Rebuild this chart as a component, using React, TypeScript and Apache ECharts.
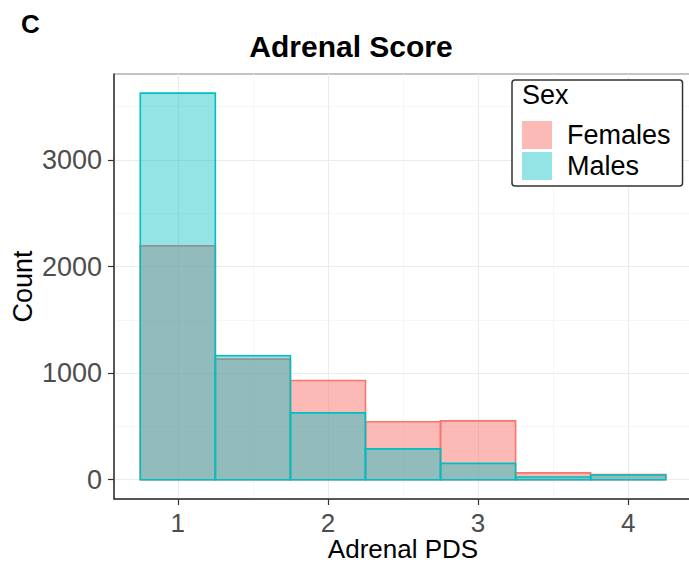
import React, { useEffect, useRef } from "react";
import * as echarts from "echarts";

// Histogram bins (centre of each 0.5-wide bin) and counts per sex
const binCenters = [1, 1.5, 2, 2.5, 3, 3.5, 4];
const femaleCounts = [2194, 1131, 931, 543, 552, 64, 48];
const maleCounts = [3627, 1163, 627, 289, 153, 25, 44];
const BIN_WIDTH = 0.5;

const xTicks = [1, 2, 3, 4];
const xMinorGrid = [1.5, 2.5, 3.5];
const yTicks = [0, 1000, 2000, 3000];
const yMinorGrid = [500, 1500, 2500, 3500];

const FONT = "'Liberation Sans', Arial, Helvetica, sans-serif";
const FEMALE_FILL = "rgba(248,118,109,0.5)";
const FEMALE_LINE = "#F8766D";
const MALE_FILL = "rgba(0,191,196,0.42)";
const MALE_LINE = "#00BFC4";

function histSeries(name: string, counts: number[], fill: string, stroke: string, z: number) {
  return {
    name,
    type: "custom",
    z,
    itemStyle: { color: fill, borderColor: stroke },
    encode: { x: 0, y: 1 },
    data: binCenters.map((c, i) => [c, counts[i]]),
    renderItem: (params: any, api: any) => {
      const c = api.value(0);
      const v = api.value(1);
      const p0 = api.coord([c - BIN_WIDTH / 2, v]);
      const p1 = api.coord([c + BIN_WIDTH / 2, 0]);
      return {
        type: "rect",
        shape: { x: p0[0], y: p0[1], width: p1[0] - p0[0], height: p1[1] - p0[1] },
        style: { fill, stroke, lineWidth: 1.6 },
      };
    },
  };
}

export default function App() {
  const ref = useRef<HTMLDivElement>(null);

  useEffect(() => {
    if (!ref.current) return;
    const chart = echarts.init(ref.current, undefined, { renderer: "svg" });

    const gridLines = [
      ...yTicks.map((v) => ({ yAxis: v, lineStyle: { color: "#EBEBEB", width: 1.1, type: "solid" } })),
      ...yMinorGrid.map((v) => ({ yAxis: v, lineStyle: { color: "#F4F4F4", width: 0.8, type: "solid" } })),
      ...xTicks.map((v) => ({ xAxis: v, lineStyle: { color: "#EBEBEB", width: 1.1, type: "solid" } })),
      ...xMinorGrid.map((v) => ({ xAxis: v, lineStyle: { color: "#F4F4F4", width: 0.8, type: "solid" } })),
    ];

    chart.setOption({
      animation: false,
      backgroundColor: "#ffffff",
      title: {
        text: "Adrenal Score",
        left: 346,
        top: 26,
        textAlign: "center",
        textStyle: { fontFamily: FONT, fontSize: 30, fontWeight: "bold", color: "#000" },
      },
      graphic: [
        {
          type: "text",
          left: 21,
          top: 11,
          style: { text: "C", font: `bold 26px ${FONT}`, fill: "#000" },
        },
        {
          type: "text",
          left: 522,
          top: 81,
          z: 100,
          style: { text: "Sex", font: `27px ${FONT}`, fill: "#000" },
        },
      ],
      legend: {
        orient: "vertical",
        left: 512,
        top: 80,
        padding: [41, 12, 6, 10],
        itemWidth: 30,
        itemHeight: 28,
        itemGap: 3,
        icon: "rect",
        backgroundColor: "#fff",
        borderColor: "#333",
        borderWidth: 1.5,
        borderRadius: 3,
        textStyle: { fontFamily: FONT, fontSize: 27, color: "#000", padding: [0, 0, 0, 10] },
        data: [
          { name: "Females", itemStyle: { color: FEMALE_FILL, borderWidth: 0 } },
          { name: "Males", itemStyle: { color: MALE_FILL, borderWidth: 0 } },
        ],
      },
      grid: {
        left: 114,
        top: 74,
        width: 578,
        height: 425,
        outerBoundsMode: "none",
        containLabel: false,
        show: true,
        backgroundColor: "#fff",
        borderColor: "#888",
        borderWidth: 1,
      },
      xAxis: {
        type: "value",
        min: 0.575,
        max: 4.425,
        name: "Adrenal PDS",
        nameLocation: "middle",
        nameGap: 39,
        nameMoveOverlap: false,
        nameTextStyle: { fontFamily: FONT, fontSize: 26, lineHeight: 22, color: "#000" },
        axisLine: { show: true, onZero: false, lineStyle: { color: "#333", width: 1.5 } },
        axisTick: { show: true, length: 6, customValues: xTicks, lineStyle: { color: "#333", width: 1.2 } },
        axisLabel: {
          customValues: xTicks,
          margin: 12,
          fontFamily: FONT,
          fontSize: 26,
          lineHeight: 24,
          color: "#4D4D4D",
          formatter: (v: number) => String(v),
        },
        splitLine: { show: false },
      },
      yAxis: {
        type: "value",
        min: -181,
        max: 3806,
        name: "Count",
        nameLocation: "middle",
        nameRotate: 90,
        nameGap: 78,
        nameMoveOverlap: false,
        nameTextStyle: { fontFamily: FONT, fontSize: 27, color: "#000" },
        axisLine: { show: true, onZero: false, lineStyle: { color: "#333", width: 1.5 } },
        axisTick: { show: true, length: 6, customValues: yTicks, lineStyle: { color: "#333", width: 1.2 } },
        axisLabel: {
          customValues: yTicks,
          margin: 12,
          fontFamily: FONT,
          fontSize: 27,
          color: "#4D4D4D",
          formatter: (v: number) => String(v),
        },
        splitLine: { show: false },
      },
      series: [
        {
          name: "grid",
          type: "line",
          data: [],
          z: 0,
          silent: true,
          markLine: {
            silent: true,
            z: 0,
            symbol: "none",
            label: { show: false },
            data: gridLines,
          },
        },
        histSeries("Females", femaleCounts, FEMALE_FILL, FEMALE_LINE, 2),
        histSeries("Males", maleCounts, MALE_FILL, MALE_LINE, 3),
      ],
    });

    return () => chart.dispose();
  }, []);

  return (
    <div
      ref={ref}
      style={{ position: "fixed", left: 0, top: 0, width: 689, height: 565 }}
    />
  );
}
